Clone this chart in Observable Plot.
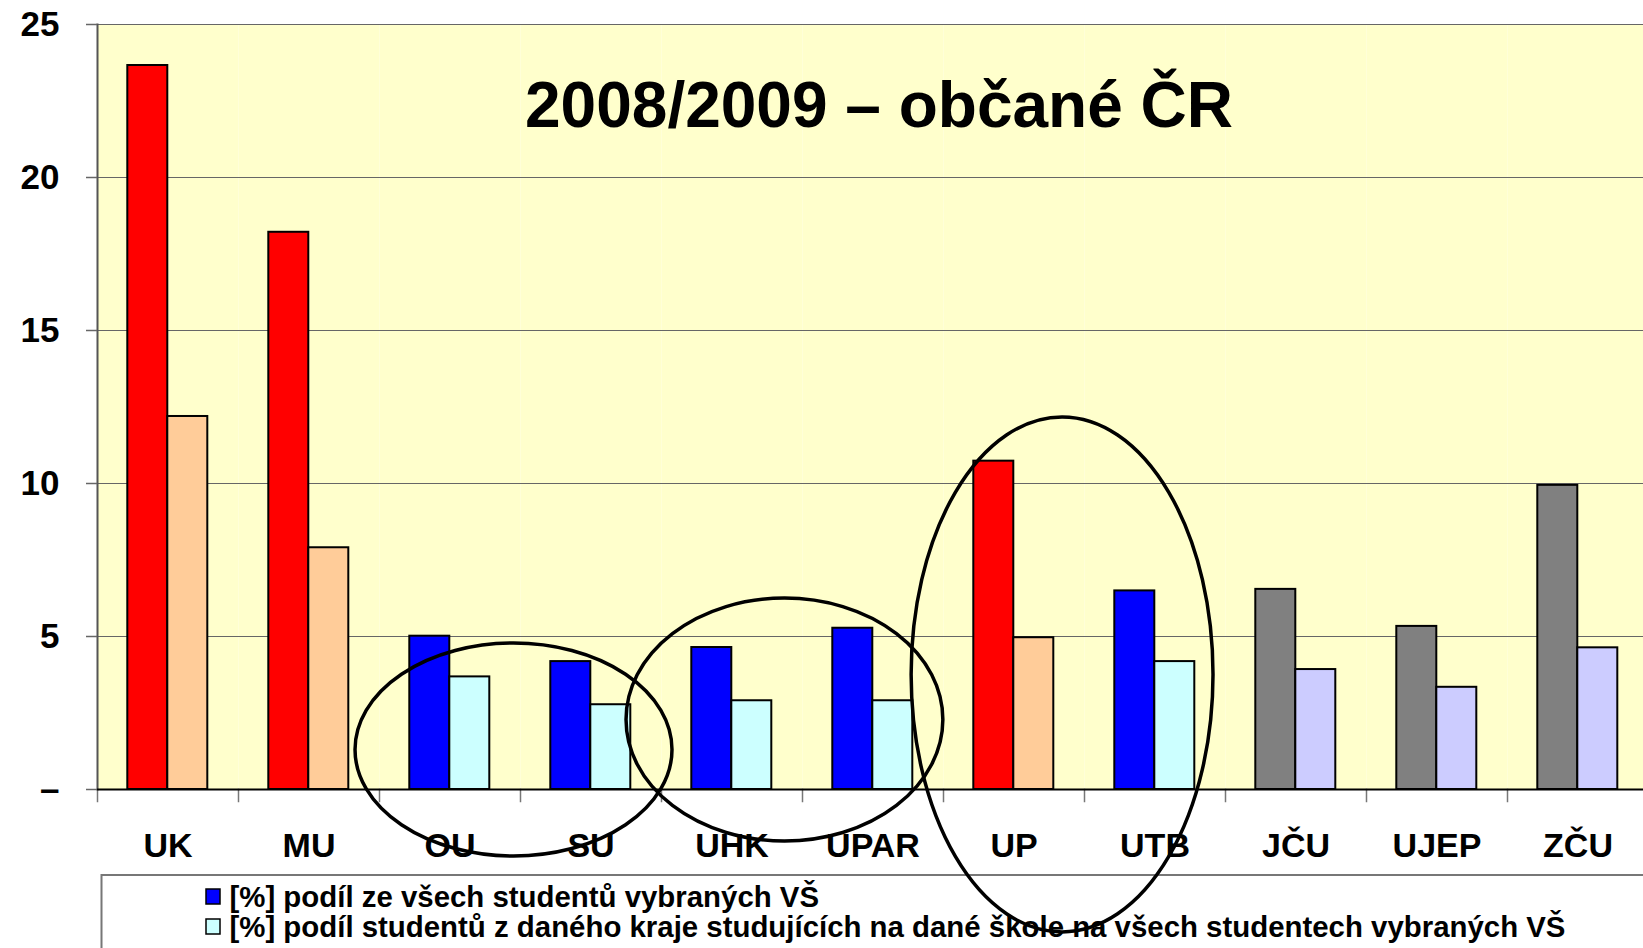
<!DOCTYPE html>
<html>
<head>
<meta charset="utf-8">
<script src="https://cdn.jsdelivr.net/npm/d3@7"></script>
<script src="https://cdn.jsdelivr.net/npm/@observablehq/plot@0.6"></script>
<style>
  html, body { margin: 0; padding: 0; overflow: hidden; background: white; }
  #chart svg { display: block; max-width: none !important; }
</style>
</head>
<body>
<div id="chart"></div>
<script>
// ---- data ----
const title = "2008/2009 – občané ČR";
const categories = ["UK", "MU", "OU", "SU", "UHK", "UPAR", "UP", "UTB", "JČU", "UJEP", "ZČU"];
const groups = ["A", "A", "B", "B", "B", "B", "A", "B", "C", "C", "C"];
const shareAll = [23.66, 18.21, 5.01, 4.18, 4.64, 5.27, 10.73, 6.49, 6.54, 5.33, 9.94];
const shareRegion = [12.19, 7.90, 3.68, 2.77, 2.90, 2.90, 4.96, 4.18, 3.92, 3.34, 4.63];
const seriesNames = [
  "[%] podíl ze všech studentů vybraných VŠ",
  "[%] podíl studentů z daného kraje studujících na dané škole na všech studentech vybraných VŠ"
];
const legendGroup = "B";
const yTicks = [0, 5, 10, 15, 20, 25];
const yTickLabels = ["–", "5", "10", "15", "20", "25"];
// hand-drawn rings (category-step units from the left edge, value units)
const rings = [
  {from: 1.830, to: 4.078, top: 4.77, bottom: -2.19},
  {from: 3.752, to: 5.999, top: 6.24, bottom: -1.70},
  {from: 5.774, to: 7.915, top: 12.16, bottom: -4.67}
];

// ---- styles ----
const colorKeys = ["A|0", "A|1", "B|0", "B|1", "C|0", "C|1"];
const colorRange = ["#FF0000", "#FFCC99", "#0000FF", "#CCFFFF", "#808080", "#CCCCFF"];
const W = 1660, H = 948;
const mL = 92.7, mT = 24, mR = 8.3, mB = H - 789;
const font = "Arial, 'Liberation Sans', sans-serif";

const rows = categories.flatMap((c, i) => [
  {cat: c, series: 0, value: shareAll[i], key: groups[i] + "|0"},
  {cat: c, series: 1, value: shareRegion[i], key: groups[i] + "|1"}
]);

const plot = Plot.plot({
  width: W,
  height: H,
  marginLeft: mL,
  marginTop: mT,
  marginRight: mR,
  marginBottom: mB,
  style: {fontFamily: font, fontWeight: "bold", background: "white", overflow: "visible", color: "black", maxWidth: "none"},
  fx: {domain: categories, padding: 0, label: null},
  x: {type: "band", domain: [0, 1], paddingInner: 0, paddingOuter: 0.728, align: 0.5, axis: null},
  y: {domain: [0, 25], label: null},
  color: {type: "ordinal", domain: colorKeys, range: colorRange},
  marks: [
    Plot.frame({fill: "#FFFFCC", stroke: "none"}),
    Plot.ruleY(yTicks.filter(d => d > 0), {stroke: "#666", strokeWidth: 1.2}),
    Plot.frame({anchor: "left", facetAnchor: "left", stroke: "#555", strokeWidth: 2}),
    Plot.frame({anchor: "left", insetTop: H - mT - mB, insetBottom: -12, stroke: "#777", strokeWidth: 1.5}),
    Plot.barY(rows, {fx: "cat", x: "series", y: "value", fill: "key", stroke: "black", strokeWidth: 2}),
    Plot.ruleY([0], {stroke: "black", strokeWidth: 2.2}),
    Plot.axisY({
      ticks: yTicks,
      tickFormat: d => yTickLabels[yTicks.indexOf(d)],
      tickSize: 11, tickPadding: 27, fontSize: 35, fontWeight: "bold",
      stroke: "#666", strokeWidth: 1.5, fill: "black", label: null
    }),
    Plot.axisFx({anchor: "bottom", tickSize: 0, tickPadding: 43, fontSize: 34, fontWeight: "bold", fill: "black", label: null}),
    Plot.text([{label: title, f: categories[5]}], {
      fx: "f", text: "label", frameAnchor: "top", lineAnchor: "top",
      dy: 56.7, dx: 6, fontSize: 64, fontWeight: "bold", fill: "black"
    })
  ]
});

document.getElementById("chart").appendChild(plot);

// ---- legend + rings, positioned through the plot's scales ----
const svg = d3.select(plot);
const colorScale = plot.scale("color");
const fxScale = plot.scale("fx");
const yScale = plot.scale("y");
const fxPos = c => fxScale.apply(c);
const x0 = fxPos(categories[0]);
const step = fxPos(categories[1]) - fxPos(categories[0]);

const lg = svg.append("g")
  .attr("font-family", font).attr("font-weight", "bold")
  .attr("text-anchor", "start");
lg.append("rect")
  .attr("x", x0 + 4.5).attr("y", 875)
  .attr("width", 2000).attr("height", 300)
  .attr("fill", "white").attr("stroke", "#777").attr("stroke-width", 2);
seriesNames.forEach((name, i) => {
  const base = 907 + i * 30;
  lg.append("rect")
    .attr("x", 206).attr("y", base - 18)
    .attr("width", 14).attr("height", 15)
    .attr("fill", colorScale.apply(legendGroup + "|" + i))
    .attr("stroke", "black").attr("stroke-width", 1.5);
  lg.append("text")
    .attr("x", 229.5).attr("y", base)
    .attr("text-anchor", "start")
    .attr("font-size", 29.4).attr("fill", "black")
    .text(name);
});

const rg = svg.append("g");
rings.forEach(r => {
  const xa = x0 + r.from * step, xb = x0 + r.to * step;
  const ya = yScale.apply(r.top), yb = yScale.apply(r.bottom);
  rg.append("ellipse")
    .attr("cx", (xa + xb) / 2).attr("cy", (ya + yb) / 2)
    .attr("rx", (xb - xa) / 2).attr("ry", Math.abs(yb - ya) / 2)
    .attr("fill", "none").attr("stroke", "black").attr("stroke-width", 3.5);
});
</script>
</body>
</html>
